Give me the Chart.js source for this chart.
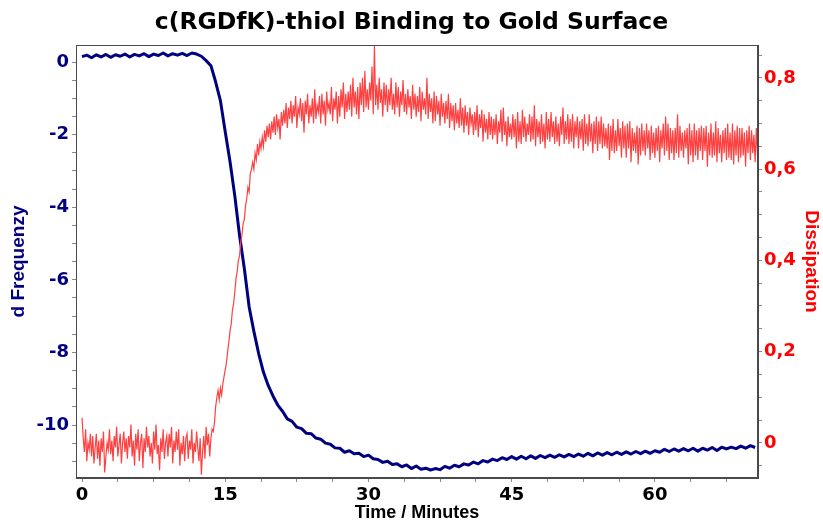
<!DOCTYPE html>
<html><head><meta charset="utf-8">
<script src="https://cdn.jsdelivr.net/npm/chart.js@4/dist/chart.umd.min.js"></script>
<style>html,body{margin:0;padding:0;background:#fff;}#c{display:block;}</style>
</head><body>
<canvas id="c" width="823" height="524"></canvas>
<script>
const chartTitle = 'c(RGDfK)-thiol Binding to Gold Surface';
const xTitle = 'Time / Minutes';
const leftTitle = 'd Frequenzy';
const rightTitle = 'Dissipation';

// sampling interval (minutes) of each trace
const freqStep = 0.5;
const dissStep = 0.125;

// d Frequenzy, one value every 0.5 min from t = 0
const frequency = [
  0.15,0.19,0.12,0.2,0.14,0.21,0.13,0.2,0.16,0.22,
  0.14,0.21,0.17,0.23,0.15,0.22,0.18,0.25,0.17,0.23,
  0.19,0.24,0.18,0.25,0.22,0.16,0.04,-0.1,-0.55,-1.07,
  -1.92,-2.74,-3.68,-4.78,-5.69,-6.74,-7.42,-8.03,-8.54,-8.91,
  -9.2,-9.45,-9.62,-9.83,-9.9,-10.06,-10.1,-10.23,-10.24,-10.36,
  -10.39,-10.5,-10.53,-10.63,-10.64,-10.75,-10.71,-10.79,-10.78,-10.87,
  -10.83,-10.93,-10.95,-11.03,-11.0,-11.09,-11.07,-11.15,-11.1,-11.2,
  -11.13,-11.22,-11.19,-11.24,-11.2,-11.23,-11.14,-11.19,-11.11,-11.15,
  -11.07,-11.1,-11.02,-11.07,-10.98,-11.02,-10.94,-10.98,-10.9,-10.95,
  -10.87,-10.94,-10.86,-10.93,-10.85,-10.92,-10.84,-10.9,-10.83,-10.89,
  -10.82,-10.88,-10.81,-10.87,-10.8,-10.86,-10.78,-10.85,-10.77,-10.83,
  -10.76,-10.82,-10.75,-10.81,-10.74,-10.8,-10.73,-10.79,-10.72,-10.78,
  -10.71,-10.75,-10.67,-10.73,-10.66,-10.72,-10.65,-10.71,-10.64,-10.72,
  -10.64,-10.69,-10.62,-10.7,-10.61,-10.66,-10.61,-10.65,-10.58,-10.64,
  -10.57,-10.62
];

// Dissipation, one value every 0.125 min from t = 0 (one row per minute)
const dissipation = [
  0.055,0.01,-0.02,0.03,-0.04,0.0,-0.015,0.02,
  -0.03,0.015,-0.045,-0.01,0.02,-0.035,0.005,-0.05,
  0.01,-0.02,0.025,-0.065,-0.03,0.0,-0.015,0.03,
  -0.025,0.005,-0.04,0.015,-0.01,0.035,-0.03,-0.005,
  0.02,-0.045,0.0,0.025,-0.02,0.01,-0.035,0.015,
  -0.01,0.04,-0.03,0.005,-0.05,0.02,-0.015,0.03,
  -0.04,0.0,0.02,-0.055,0.01,-0.02,0.035,-0.01,
  0.015,-0.03,0.0,-0.045,0.025,-0.015,0.04,-0.025,
  -0.005,-0.06,0.01,-0.02,0.03,-0.035,0.0,0.015,
  -0.03,0.02,-0.01,0.035,-0.045,0.005,-0.02,0.025,
  -0.015,0.03,-0.05,0.0,-0.025,0.015,-0.04,0.01,
  0.02,-0.035,0.005,-0.015,0.03,-0.045,0.0,-0.02,
  0.025,-0.01,-0.04,0.01,-0.07,-0.02,0.015,-0.035,
  0.035,-0.005,0.02,-0.03,0.01,0.03,0.025,0.045,
  0.08,0.1,0.115,0.095,0.12,0.105,0.13,0.145,
  0.16,0.175,0.2,0.22,0.245,0.26,0.29,0.305,
  0.33,0.36,0.375,0.4,0.41,0.44,0.455,0.48,
  0.49,0.52,0.535,0.56,0.55,0.59,0.6,0.615,
  0.6,0.635,0.62,0.655,0.63,0.66,0.645,0.67,
  0.65,0.685,0.66,0.695,0.67,0.7,0.665,0.705,
  0.68,0.715,0.675,0.72,0.69,0.71,0.665,0.725,
  0.695,0.73,0.7,0.745,0.69,0.735,0.71,0.75,
  0.7,0.74,0.715,0.76,0.69,0.735,0.72,0.755,
  0.705,0.745,0.68,0.75,0.72,0.765,0.7,0.74,
  0.715,0.755,0.7,0.775,0.71,0.74,0.725,0.76,
  0.7,0.765,0.72,0.75,0.695,0.77,0.73,0.745,
  0.72,0.78,0.705,0.755,0.73,0.77,0.7,0.76,
  0.715,0.775,0.735,0.79,0.71,0.765,0.725,0.77,
  0.73,0.785,0.715,0.8,0.735,0.77,0.72,0.78,
  0.71,0.79,0.74,0.8,0.725,0.815,0.735,0.775,
  0.73,0.79,0.75,0.825,0.72,0.87,0.74,0.785,
  0.73,0.8,0.745,0.775,0.715,0.79,0.74,0.785,
  0.725,0.775,0.74,0.8,0.73,0.765,0.72,0.79,
  0.735,0.78,0.715,0.77,0.74,0.795,0.725,0.765,
  0.72,0.775,0.735,0.76,0.71,0.785,0.73,0.765,
  0.715,0.76,0.725,0.78,0.705,0.77,0.73,0.755,
  0.72,0.8,0.71,0.765,0.725,0.755,0.7,0.77,
  0.705,0.76,0.72,0.75,0.695,0.765,0.715,0.745,
  0.7,0.75,0.71,0.765,0.69,0.745,0.705,0.74,
  0.685,0.745,0.7,0.73,0.69,0.755,0.695,0.735,
  0.68,0.74,0.695,0.725,0.675,0.735,0.7,0.72,
  0.675,0.725,0.685,0.74,0.67,0.72,0.69,0.73,
  0.66,0.72,0.68,0.71,0.665,0.725,0.675,0.715,
  0.665,0.71,0.675,0.72,0.655,0.705,0.68,0.73,
  0.66,0.735,0.675,0.705,0.65,0.715,0.67,0.7,
  0.665,0.72,0.67,0.71,0.645,0.725,0.66,0.705,
  0.655,0.73,0.67,0.715,0.66,0.7,0.675,0.72,
  0.66,0.715,0.665,0.74,0.65,0.71,0.67,0.705,
  0.655,0.72,0.66,0.7,0.645,0.725,0.665,0.71,
  0.66,0.725,0.67,0.705,0.655,0.715,0.66,0.7,
  0.65,0.715,0.675,0.735,0.655,0.705,0.665,0.72,
  0.655,0.71,0.66,0.72,0.645,0.705,0.67,0.715,
  0.645,0.705,0.665,0.71,0.64,0.72,0.655,0.7,
  0.65,0.72,0.66,0.7,0.635,0.705,0.655,0.715,
  0.64,0.705,0.655,0.715,0.645,0.7,0.65,0.69,
  0.645,0.7,0.62,0.695,0.64,0.71,0.635,0.685,
  0.64,0.71,0.65,0.69,0.625,0.705,0.645,0.695,
  0.625,0.7,0.645,0.705,0.615,0.69,0.64,0.68,
  0.635,0.695,0.61,0.69,0.63,0.7,0.64,0.685,
  0.63,0.7,0.645,0.685,0.62,0.695,0.635,0.68,
  0.625,0.69,0.64,0.695,0.615,0.685,0.645,0.7,
  0.63,0.715,0.64,0.7,0.62,0.69,0.635,0.685,
  0.62,0.69,0.635,0.72,0.625,0.695,0.64,0.68,
  0.625,0.685,0.645,0.69,0.61,0.7,0.63,0.685,
  0.615,0.7,0.63,0.685,0.62,0.69,0.64,0.695,
  0.62,0.69,0.64,0.695,0.605,0.68,0.63,0.7,
  0.625,0.68,0.63,0.705,0.615,0.69,0.635,0.675,
  0.615,0.685,0.635,0.69,0.62,0.7,0.625,0.68,
  0.62,0.7,0.61,0.685,0.63,0.695,0.615,0.69,
  0.625,0.69,0.63,0.68,0.605,0.685,0.635,0.695,
  0.62,0.685,0.635,0.675,0.615,0.69,0.63
];

// tick label spacing
const xLabelEvery = 15, xMinorStep = 3.75;
const leftLabelEvery = 2, leftMinorStep = 0.5;
const rightLabelEvery = 0.2, rightMinorStep = 0.05;

const NAVY = '#000080', RED = '#ff4040', RED_TXT = '#ff0000', AXIS = '#4a4a4a', TICK = '#8a8a8a';
const isMult = (v, m) => Math.abs(v / m - Math.round(v / m)) < 1e-6;

const framePlugin = {
  id: 'frame',
  afterDraw(chart) {
    const {ctx, chartArea: {left, top, right, bottom}} = chart;
    ctx.save();
    ctx.strokeStyle = AXIS;
    ctx.lineWidth = 1;
    ctx.strokeRect(Math.round(left) + 0.5, Math.round(top) + 0.5, Math.round(right - left) - 1, Math.round(bottom - top) - 1);
    ctx.restore();
  }
};

new Chart(document.getElementById('c'), {
  type: 'line',
  data: {
    datasets: [
      {
        label: rightTitle,
        data: dissipation.map((v, i) => ({x: i * dissStep, y: v})),
        yAxisID: 'y1',
        borderColor: RED,
        borderWidth: 1.2,
        pointRadius: 0,
        tension: 0,
        order: 0
      },
      {
        label: leftTitle,
        data: frequency.map((v, i) => ({x: i * freqStep, y: v})),
        yAxisID: 'y',
        borderColor: NAVY,
        borderWidth: 3,
        pointRadius: 0,
        tension: 0,
        borderJoinStyle: 'round',
        order: 1
      }
    ]
  },
  options: {
    responsive: false,
    animation: false,
    devicePixelRatio: 1,
    layout: {padding: 0},
    plugins: {
      legend: {display: false},
      tooltip: {enabled: false},
      title: {
        display: true,
        text: chartTitle,
        color: '#000',
        font: {family: 'DejaVu Sans', size: 23.5, weight: 'bold', lineHeight: 1.2},
        padding: {top: 8.3, bottom: 8.5}
      }
    },
    scales: {
      x: {
        type: 'linear',
        position: 'bottom',
        min: -0.63,
        max: 70.8,
        afterFit: s => { s.height = 46; },
        border: {color: AXIS, width: 1},
        grid: {drawOnChartArea: false, drawTicks: true, tickLength: 4, color: TICK},
        ticks: {
          stepSize: xMinorStep,
          includeBounds: false,
          autoSkip: false,
          maxRotation: 0,
          padding: 3,
          color: '#000',
          font: {family: 'DejaVu Sans', size: 18, weight: 'bold'},
          callback: v => isMult(v, xLabelEvery) ? String(Math.round(v)) : ''
        },
        title: {
          display: true,
          text: xTitle,
          color: '#000',
          font: {family: 'Liberation Sans', size: 18, weight: 'bold', lineHeight: 1.2},
          padding: {top: 0, bottom: 0}
        }
      },
      y: {
        type: 'linear',
        position: 'left',
        min: -11.46,
        max: 0.47,
        afterFit: s => { s.width = 76; },
        border: {color: AXIS, width: 1},
        grid: {drawOnChartArea: false, drawTicks: true, tickLength: 4, color: TICK},
        ticks: {
          stepSize: leftMinorStep,
          includeBounds: false,
          autoSkip: false,
          padding: 3,
          color: NAVY,
          font: {family: 'DejaVu Sans', size: 18, weight: 'bold'},
          callback: v => isMult(v, leftLabelEvery) ? String(Math.round(v)) : ''
        },
        title: {
          display: true,
          text: leftTitle,
          color: NAVY,
          font: {family: 'Liberation Sans', size: 19, weight: 'bold', lineHeight: 1.2},
          padding: {top: 7, bottom: 0}
        }
      },
      y1: {
        type: 'linear',
        position: 'right',
        min: -0.077,
        max: 0.872,
        afterFit: s => { s.width = 65; },
        border: {color: AXIS, width: 1},
        grid: {drawOnChartArea: false, drawTicks: true, tickLength: 4, color: TICK},
        ticks: {
          stepSize: rightMinorStep,
          includeBounds: false,
          autoSkip: false,
          padding: 2,
          color: RED_TXT,
          font: {family: 'DejaVu Sans', size: 18, weight: 'bold'},
          callback: v => {
            if (!isMult(v, rightLabelEvery)) return '';
            const r = Math.round(v / rightLabelEvery) * rightLabelEvery;
            return Math.abs(r) < 1e-9 ? '0' : r.toFixed(1).replace('.', ',');
          }
        },
        title: {
          display: true,
          text: rightTitle,
          color: RED_TXT,
          font: {family: 'Liberation Sans', size: 19, weight: 'bold', lineHeight: 1.2},
          padding: {top: 0, bottom: 0}
        }
      }
    }
  },
  plugins: [framePlugin]
});
</script>
</body></html>
